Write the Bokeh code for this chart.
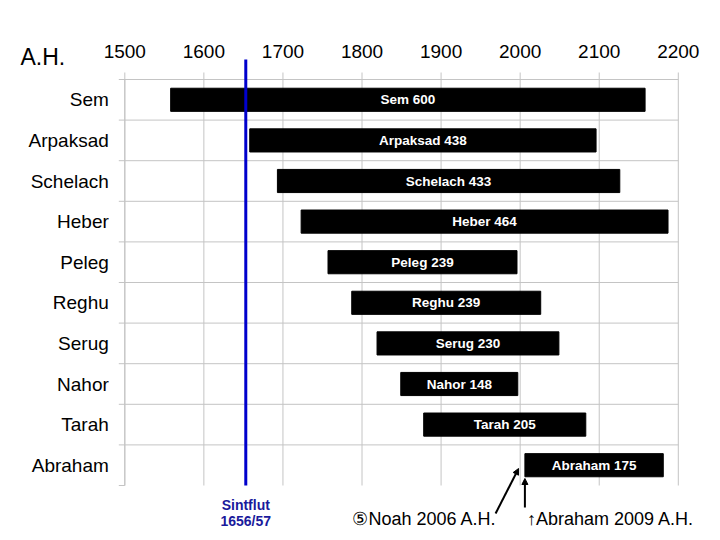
from bokeh.plotting import figure
from bokeh.models import Range1d, Arrow, NormalHead, ColumnDataSource
from bokeh.core.properties import value
from bokeh.embed import file_html
from bokeh.resources import INLINE

# ---- data ----
names = ["Sem", "Arpaksad", "Schelach", "Heber", "Peleg", "Reghu", "Serug", "Nahor", "Tarah", "Abraham"]
birth = [1558, 1658, 1693, 1723, 1757, 1787, 1819, 1849, 1878, 2006]
age = [600, 438, 433, 464, 239, 239, 230, 148, 205, 175]
year_ticks = [1500, 1600, 1700, 1800, 1900, 2000, 2100, 2200]
year_labels = [str(y) for y in year_ticks]
flood_year = 1653          # position of the blue line as drawn
noah_death = 1998          # where the diagonal arrow points (as drawn)
abraham_mark = 2006        # where the vertical arrow points (as drawn)

FONT = "Liberation Sans"
GRID = "#c4c4c4"

# ---- layout (pixels) ----
W, H = 712, 532
PL, PR = 124.3, 677.8      # plot area left / right edge
PT, RH = 79.0, 40.6        # plot area top, row height
X0, X1 = 1500, 2200
n = len(names)
k = (PR - PL) / (X1 - X0)  # px per year

p = figure(frame_width=W, frame_height=H,
           x_range=Range1d(X0 - PL / k, X0 + (W - PL) / k),
           y_range=Range1d((H - PT) / RH, -PT / RH),
           x_axis_location=None, y_axis_location=None,
           output_backend="svg", toolbar_location=None,
           min_border_left=0, min_border_right=0, min_border_top=0, min_border_bottom=0)
p.outline_line_color = None
p.xgrid.visible = False
p.ygrid.visible = False
p.background_fill_color = "white"

death = [b + a for b, a in zip(birth, age)]
centers = [i + 0.5 for i in range(n)]

# ---- axes & grid ----
tick_up = 7 / RH
stub = 6 / k
# vertical grid lines with small ticks above the plot area
p.segment(x0=year_ticks, y0=[-tick_up] * len(year_ticks), x1=year_ticks,
          y1=[n] * len(year_ticks), line_color=GRID, line_width=1)
# horizontal grid lines (top and between rows) with stubs to the left
bounds = list(range(n))
p.segment(x0=[X0 - stub] * n, y0=bounds, x1=[X1] * n, y1=bounds,
          line_color=GRID, line_width=1)
p.segment(x0=[X0 - stub], y0=[n], x1=[X0], y1=[n], line_color=GRID, line_width=1)
# left axis line
p.segment(x0=[X0], y0=[0], x1=[X0], y1=[n], line_color=GRID, line_width=1)

# year tick labels
p.text(x=year_ticks, y=[0] * len(year_ticks), text=year_labels, y_offset=-28.5,
       text_font=value(FONT), text_font_size="19px", text_color="black",
       text_align="center", text_baseline="middle")
# category labels
p.text(x=[X0] * n, y=centers, text=names, x_offset=-16,
       text_font=value(FONT), text_font_size="19px", text_color="black",
       text_align="right", text_baseline="middle")
# unit label
p.text(x=[X0], y=[0], text=["A.H."], x_offset=-(PL - 20), y_offset=-23,
       text_font=value(FONT), text_font_size="23px", text_color="black",
       text_align="left", text_baseline="middle")

# ---- bars ----
src = ColumnDataSource(dict(
    left=birth, right=death, y=centers,
    mid=[(b + d) / 2 for b, d in zip(birth, death)],
    label=[f"{nm} {a}" for nm, a in zip(names, age)],
))
p.hbar(y="y", left="left", right="right", height=0.57, source=src,
       fill_color="black", line_color="black")
p.text(x="mid", y="y", text="label", source=src, text_color="white",
       text_font=value(FONT), text_font_style="bold", text_font_size="13.5px",
       text_align="center", text_baseline="middle")

# ---- flood line ----
p.segment(x0=[flood_year], y0=[n], x1=[flood_year], y1=[-20 / RH],
          line_color="#0000cc", line_width=3)
p.text(x=[flood_year, flood_year], y=[n, n], text=["Sintflut", "1656/57"],
       y_offset=[19, 35], text_font=value(FONT), text_font_style="bold",
       text_font_size="14px", text_color="#1a1a9c",
       text_align="center", text_baseline="middle")

# ---- notes below ----
p.text(x=[noah_death], y=[n], text=["\u2464Noah 2006 A.H."], x_offset=-22, y_offset=33,
       text_font=value(FONT), text_font_size="18px", text_color="black",
       text_align="right", text_baseline="middle")
p.text(x=[abraham_mark], y=[n], text=["\u2191Abraham 2009 A.H."], x_offset=2, y_offset=33,
       text_font=value(FONT), text_font_size="18px", text_color="black",
       text_align="left", text_baseline="middle")

p.add_layout(Arrow(end=NormalHead(size=6, fill_color="black", line_color="black"),
                   x_start=noah_death - 23 / k, y_start=n + 28 / RH,
                   x_end=noah_death, y_end=n - 17 / RH,
                   line_color="black", line_width=2))
p.add_layout(Arrow(end=NormalHead(size=6, fill_color="black", line_color="black"),
                   x_start=abraham_mark, y_start=n + 22 / RH,
                   x_end=abraham_mark, y_end=n - 7 / RH,
                   line_color="black", line_width=2))

open("out.html", "w").write(file_html(p, INLINE))
